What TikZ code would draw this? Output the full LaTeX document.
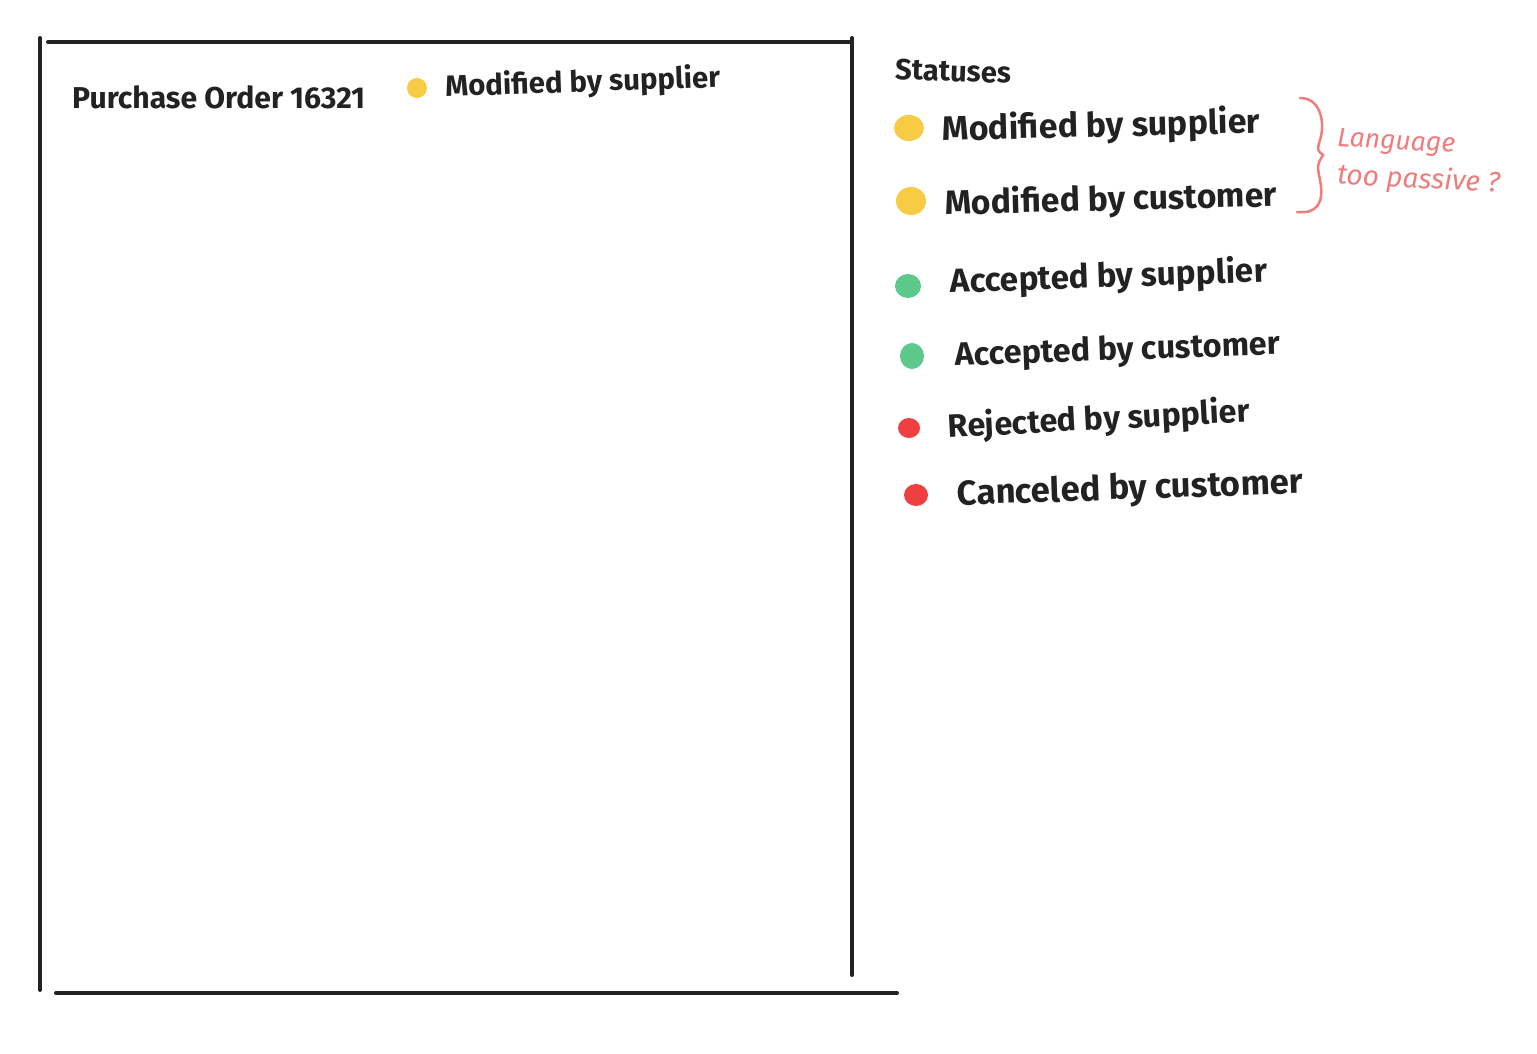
\documentclass[tikz,border=0pt]{standalone}
\usepackage{fontspec}
\setmainfont{Fira Sans}
\usepackage{graphicx}
\definecolor{ink}{HTML}{222222}
\definecolor{dotyellow}{HTML}{F8CB45}
\definecolor{dotgreen}{HTML}{5CC98A}
\definecolor{dotred}{HTML}{EE4040}
\definecolor{note}{HTML}{EE7D7D}
\newcommand{\fitw}[2]{\resizebox{#1pt}{!}{#2}}
\begin{document}
\begin{tikzpicture}[x=1pt,y=-1pt,
  frame/.style={draw=ink,line width=4pt,line cap=round},
  lbl/.style={inner sep=0pt,anchor=west,text=ink,font=\bfseries},
  notetxt/.style={inner sep=0pt,anchor=west,text=note,font=\itshape}]
\useasboundingbox (0,0) rectangle (1537,1053);
% frame
\coordinate (tl) at (40,38); \coordinate (bl) at (40,990);
\coordinate (tr) at (852,38); \coordinate (br) at (852,975);
\coordinate (ta) at (48,42); \coordinate (tb) at (852,42);
\coordinate (ba) at (56,993); \coordinate (bb) at (897,993);
\draw[frame] (tl) -- (bl);
\draw[frame] (tr) -- (br);
\draw[frame] (ta) -- (tb);
\draw[frame] (ba) -- (bb);
% header
\node[lbl] (title) at (72,97) {\fitw{293}{Purchase Order 16321}};
\fill[dotyellow] (417,88) ellipse (10 and 10);
\node[lbl,rotate=2] (hstat) at (445,88) {\fitw{275}{Modified by supplier}};
% legend
\node[lbl,rotate=-2] (statuses) at (895,69) {\fitw{116}{Statuses}};
\fill[dotyellow] (909,128) ellipse (15 and 13);
\node[lbl,rotate=1.5] (s1) at (942,131) {\fitw{318}{Modified by supplier}};
\fill[dotyellow] (911,201) ellipse (15 and 14);
\node[lbl,rotate=1.5] (s2) at (945,205) {\fitw{332}{Modified by customer}};
\fill[dotgreen] (908,286) ellipse (13 and 12);
\node[lbl,rotate=2] (s3) at (950,283) {\fitw{317}{Accepted by supplier}};
\fill[dotgreen] (912,356) ellipse (12 and 13);
\node[lbl,rotate=2] (s4) at (955,357) {\fitw{325}{Accepted by customer}};
\fill[dotred] (909,428) ellipse (11 and 10);
\node[lbl,rotate=3] (s5) at (948,428) {\fitw{302}{Rejected by supplier}};
\fill[dotred] (916,495) ellipse (12 and 11);
\node[lbl,rotate=2] (s6) at (957,496) {\fitw{346}{Canceled by customer}};
% annotation
\coordinate (b1) at (1300,98);
\coordinate (b2) at (1323,155);
\coordinate (b3) at (1297,212);
\draw[note,line width=2.5pt,line cap=round]
  (b1) .. controls (1322,98) and (1325,125) .. (1320,140)
  .. controls (1317,150) .. (b2)
  .. controls (1317,165) .. (1320,180)
  .. controls (1325,205) and (1315,214) .. (b3);
\node[notetxt,rotate=-3] (n1) at (1337,140) {\fitw{118}{Language}};
\node[notetxt,rotate=-3] (n2) at (1337,176) {\fitw{163}{too passive ?}};
\end{tikzpicture}
\end{document}
